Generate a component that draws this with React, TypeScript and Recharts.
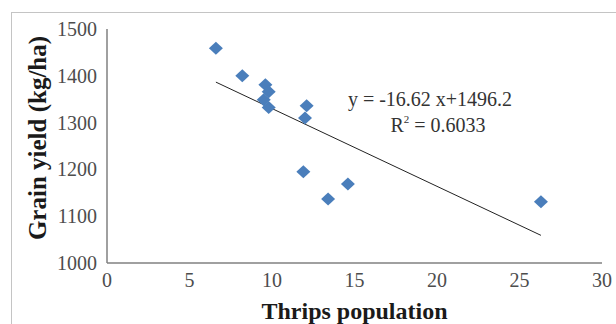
import { ScatterChart, Scatter, XAxis, YAxis, ReferenceLine } from 'recharts';

// thrips population (x) vs grain yield (y)
const thrips = [6.6, 8.2, 9.6, 9.8, 9.5, 9.8, 12.1, 12.0, 11.9, 13.4, 14.6, 26.3];
const grainYield = [1459, 1400, 1381, 1366, 1349, 1332, 1336, 1310, 1195, 1137, 1169, 1131];

const xTicks = [0, 5, 10, 15, 20, 25, 30];
const yTicks = [1000, 1100, 1200, 1300, 1400, 1500];

// linear trendline end points (y = -16.62x + 1496.2)
const trendX = [6.6, 26.3];
const trendY = [1386.5, 1059.1];

const points = thrips.map((x, i) => ({ x, y: grainYield[i] }));

const FONT = '"Liberation Serif", "DejaVu Serif", serif';

const Diamond = (props: any) => {
  const { cx, cy } = props;
  if (cx == null || cy == null) return null;
  return (
    <polygon
      points={`${cx},${cy - 6.5} ${cx + 7},${cy} ${cx},${cy + 6.5} ${cx - 7},${cy}`}
      fill="#4a7ebb"
    />
  );
};

const XTick = (props: any) => {
  const { x, y, payload } = props;
  return (
    <text x={x} y={y + 16} textAnchor="middle" fontFamily={FONT} fontSize={20} fill="#4d4d4d">
      {payload.value}
    </text>
  );
};

const YTick = (props: any) => {
  const { x, y, payload } = props;
  return (
    <text x={x} y={y + 7} textAnchor="end" fontFamily={FONT} fontSize={20} fill="#4d4d4d">
      {payload.value}
    </text>
  );
};

export default function App() {
  return (
    <div
      style={{
        position: 'absolute',
        left: 0,
        top: 0,
        width: 616,
        height: 324,
        overflow: 'hidden',
        background: '#fff',
        fontFamily: FONT,
      }}
    >
      <div
        style={{
          position: 'absolute',
          left: 11,
          top: 12,
          width: 700,
          height: 400,
          border: '1px solid #c4c4c4',
        }}
      />
      <ScatterChart
        width={616}
        height={324}
        margin={{ top: 29, right: 14, left: 0, bottom: 0 }}
        style={{ position: 'absolute', left: 0, top: 0, fontFamily: FONT }}
      >
        <XAxis
          type="number"
          dataKey="x"
          domain={[0, 30]}
          ticks={xTicks}
          tick={<XTick />}
          tickLine={false}
          tickMargin={2}
          axisLine={{ stroke: '#808080', strokeWidth: 1.5 }}
          height={61}
          label={{
            value: 'Thrips population',
            position: 'center',
            dy: 17,
            style: { fontSize: 24, fontWeight: 'bold', fill: '#1a1a1a', fontFamily: FONT },
          }}
        />
        <YAxis
          type="number"
          dataKey="y"
          domain={[1000, 1500]}
          ticks={yTicks}
          tick={<YTick />}
          tickLine={false}
          tickMargin={4}
          axisLine={{ stroke: '#808080', strokeWidth: 1.5 }}
          width={107}
          label={{
            value: 'Grain yield (kg/ha)',
            angle: -90,
            position: 'center',
            dx: -16,
            dy: -8,
            style: { fontSize: 25, fontWeight: 'bold', fill: '#1a1a1a', textAnchor: 'middle', fontFamily: FONT },
          }}
        />
        <ReferenceLine
          segment={[
            { x: trendX[0], y: trendY[0] },
            { x: trendX[1], y: trendY[1] },
          ]}
          stroke="#222"
          strokeWidth={1}
        />
        <Scatter data={points} shape={Diamond} isAnimationActive={false} />
      </ScatterChart>
      <div
        style={{
          position: 'absolute',
          left: 330,
          width: 200,
          top: 86,
          textAlign: 'center',
          fontSize: 20,
          color: '#333',
          lineHeight: '26px',
        }}
      >
        <div>y = -16.62 x+1496.2</div>
        <div style={{ paddingLeft: 16 }}>
          R<sup style={{ fontSize: 11, verticalAlign: 'top', lineHeight: '14px' }}>2</sup> = 0.6033
        </div>
      </div>
    </div>
  );
}
